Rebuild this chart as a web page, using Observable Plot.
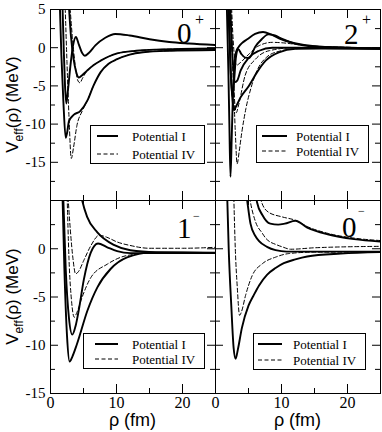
<!DOCTYPE html>
<html><head><meta charset="utf-8">
<script src="https://cdn.jsdelivr.net/npm/d3@7"></script>
<script src="https://cdn.jsdelivr.net/npm/@observablehq/plot@0.6"></script>
<style>
body{margin:0;background:#fff}
#chart{position:relative;width:382px;height:432px;overflow:hidden;background:#fff}
#chart svg{position:absolute;left:0;top:0}
</style></head><body><div id="chart"></div>
<script>
// ---------- data: rho (fm), V_eff (MeV) ----------
// 0+ panel
const zp_I_a = [[1.8,6],[2.0,0],[2.2,-5],[2.4,-7.3],[2.65,-5.5],[3.0,-2.5],[3.4,0.2],[3.85,1.4],[4.3,0.4],[4.8,-0.7],[5.2,-1.05],[5.8,-0.7],[6.8,0.3],[8.3,1.3],[9.8,1.8],[12,1.6],[15,1.1],[18,0.75],[21,0.55],[25,0.35]];
const zp_I_b = [[1.4,6],[1.65,-1],[1.95,-7],[2.3,-11.8],[2.5,-11.2],[2.8,-9.6],[3.5,-8.8],[4.5,-8.3],[5.6,-6.9],[6.5,-5],[7.6,-3.2],[8.8,-2.1],[10.1,-1.5],[12,-0.9],[14,-0.6],[18,-0.4],[25,-0.3]];
const zp_I_c = [[2.75,6],[3.1,1.5],[3.5,-1.5],[3.9,-3.2],[4.3,-3.9],[4.8,-3.6],[5.55,-3.0],[6.5,-2.3],[7.6,-1.7],[10.1,-0.75],[13,-0.4],[16,-0.25],[25,-0.1]];
const zp_IV_a = [[2.2,6],[2.5,-2],[2.8,-9],[3.15,-14.5],[3.5,-13],[4.0,-10.2],[4.8,-8.3],[5.6,-6.9],[6.5,-5],[7.6,-3.2],[8.8,-2.1],[10.1,-1.5],[12,-0.9],[14,-0.6],[18,-0.4],[25,-0.3]];
const zp_IV_b = [[2.9,6],[3.3,1.5],[3.7,-2],[4.1,-4.2],[4.45,-4.6],[4.85,-4.0],[5.55,-3.0],[6.5,-2.3],[7.6,-1.7],[10.1,-0.75],[13,-0.4],[16,-0.25],[25,-0.1]];
// 2+ panel
const tp_I_a = [[1.7,6],[1.95,-3],[2.1,-10],[2.27,-16.9],[2.45,-12],[2.65,-6],[2.9,-2],[3.1,-0.6],[3.5,0.1],[4.0,0.6],[4.8,1.1],[6.0,1.8],[7.2,2.05],[8.5,1.7],[10,1.1],[12,0.6],[15,0.2],[20,0],[25,-0.1]];
const tp_I_b = [[1.9,6],[2.3,-3],[2.6,-7],[2.8,-8.2],[3.05,-7.8],[3.8,-6.5],[5.05,-5.0],[6.3,-3.2],[7.6,-1.7],[9.6,-0.6],[12.1,-0.15],[16,-0.1],[25,-0.15]];
const tp_I_c = [[2.0,6],[2.3,-3],[2.6,-6.5],[2.85,-4],[3.1,-1.2],[3.45,-0.2],[3.9,-0.8],[4.5,-1.3],[5.1,-1.35],[6.0,0.1],[7.0,1.1],[8.0,1.75],[9,1.6],[10.1,1.15],[12.1,0.5],[15,0.15],[20,0],[25,-0.1]];
const tp_I_d = [[2.2,6],[2.6,-1.5],[3.0,-4.5],[3.3,-4.3],[3.8,-3.0],[5.05,-1.3],[6.6,-0.4],[8.6,0.0],[12,0],[25,-0.1]];
const tp_IV_a = [[2.3,6],[2.7,-4],[3.0,-11],[3.28,-15.2],[3.6,-13.5],[4.0,-11],[4.6,-8],[5.4,-5.2],[6.4,-2.8],[7.8,-1.2],[9.7,-0.45],[12,-0.15],[16,0],[25,-0.1]];
const tp_IV_b = [[2.2,6],[2.6,-2],[2.9,-7],[3.15,-8.5],[3.5,-7.5],[4.5,-3.6],[6.06,-1.5],[8.1,-0.4],[12,0],[25,-0.1]];
const tp_IV_c = [[2.4,6],[2.8,-0.5],[3.2,-2.3],[3.7,-2.0],[5.05,-0.85],[6.56,0.25],[8.6,0.7],[10,0.65],[12.1,0.45],[15,0.2],[20,0.05],[25,0]];
// 1- panel
const om_I_a = [[1.8,6],[2.1,-2],[2.5,-9],[2.9,-11.7],[3.3,-11.2],[4.0,-9.9],[5.6,-6.4],[7.1,-4.0],[9.1,-2.1],[11.6,-0.9],[15.2,-0.4],[20,-0.4],[25,-0.45]];
const om_I_b = [[1.9,6],[2.3,-2],[2.8,-7.2],[3.3,-8.9],[3.8,-8],[4.3,-6.3],[5.05,-3.2],[6.1,-0.4],[7.2,0.55],[8.6,0.15],[10.1,-0.25],[12.1,-0.45],[16,-0.45],[25,-0.45]];
const om_I_c = [[4.5,6],[4.8,5],[5.55,3.3],[7.1,1.7],[9.6,0.4],[12.1,-0.15],[16,-0.35],[25,-0.4]];
const om_IV_a = [[2.5,6],[2.8,-1],[3.2,-5.5],[3.6,-7.1],[4.0,-6.6],[4.8,-5.0],[6.1,-3.0],[8.6,-1.6],[11.6,-0.7],[16,-0.4],[25,-0.4]];
const om_IV_b = [[2.6,6],[3.0,2],[3.4,-1],[3.8,-2.6],[4.2,-2.4],[5.05,-1.2],[6.1,0.3],[7.4,1.4],[8.5,1.2],[10.1,0.7],[12,0.35],[15,0.05],[20,0.05],[25,0.15]];
// 0- panel
const zm_I_a = [[1.75,6],[2.0,0],[2.4,-6],[2.75,-10.3],[3.05,-11.4],[3.4,-10.4],[4.0,-8.2],[5.0,-5.9],[5.8,-4.8],[6.6,-3.8],[7.8,-2.7],[9.1,-2.0],[10.35,-1.5],[12.1,-1.1],[13.9,-0.8],[19,-0.5],[25,-0.35]];
const zm_I_b = [[4.6,6],[4.8,5],[5.3,2.6],[6.06,1.3],[6.6,0.8],[7.8,0.2],[9.1,-0.15],[10.8,-0.3],[14,-0.3],[25,-0.3]];
const zm_I_c = [[6.0,6],[6.3,4.8],[7.1,3.5],[8.3,2.6],[9.5,2.5],[10.5,2.6],[12.1,2.9],[13.9,2.2],[17,1.5],[21,1.0],[25,0.75]];
const zm_IV_a = [[2.75,6],[3.0,0],[3.3,-4],[3.65,-6.9],[3.95,-6.5],[4.55,-4.85],[5.55,-2.8],[7.1,-1.55],[9.1,-0.87],[11.1,-0.5],[15,-0.35],[25,-0.35]];
const zm_IV_b = [[5.0,6],[5.3,4.8],[6.06,2.8],[7.1,1.6],[7.6,1.1],[9.3,0.4],[10.1,0.2],[11.4,-0.05],[15,0.1],[25,0.25]];
const zm_IV_c = [[6.6,6],[7.0,4.8],[8.0,3.8],[10.1,3.3],[12.1,2.95],[13.9,2.3],[17,1.6],[21,1.1],[25,0.85]];

// ---------- ticks & labels ----------
const xDomain = [0, 25];
const yDomainTop = [-20, 5];
const yDomainBottom = [-15, 5];
const xTicksMajor = [0, 10, 20];
const xTicksMinor = [5, 15];
const yTicksMajorTop = [5, 0, -5, -10, -15, -20];
const yTicksMinorTop = [2.5, -2.5, -7.5, -12.5, -17.5];
const yTicksMajorBottom = [5, 0, -5, -10, -15];
const yTicksMinorBottom = [2.5, -2.5, -7.5, -12.5];
const yTickLabelsTop = [5, 0, -5, -10, -15];
const yTickLabelsBottom = [0, -5, -10, -15];
const xTickLabels = [0, 10, 20];
const legendLabels = ["Potential I", "Potential IV"];
const yTitle = ["V", "eff", "(\u03c1) (MeV)"];
const xTitle = "\u03c1 (fm)";

// ---------- layout ----------
const W = 382, H = 432;
const panels = [
  {state: ["0", "+"], x0: 50, x1: 215, y0: 9, y1: 200, yDomain: yDomainTop, yMaj: yTicksMajorTop, yMin: yTicksMinorTop,
   yLab: yTickLabelsTop, xLab: null, solid: [zp_I_a, zp_I_b, zp_I_c], dashed: [zp_IV_a, zp_IV_b],
   legend: {x: 90, y: 125, w: 114, h: 38, lx: 97, lw: 21, tx: 132, dy: 18},
   lab: {x: 177, y: 43, sx: 195, sy: 25, ss: 16}},
  {state: ["2", "+"], x0: 215, x1: 380, y0: 9, y1: 200, yDomain: yDomainTop, yMaj: yTicksMajorTop, yMin: yTicksMinorTop,
   yLab: null, xLab: null, solid: [tp_I_a, tp_I_b, tp_I_c, tp_I_d], dashed: [tp_IV_a, tp_IV_b, tp_IV_c],
   legend: {x: 256, y: 125, w: 112, h: 37, lx: 262, lw: 25, tx: 296, dy: 15},
   lab: {x: 344, y: 44, sx: 362, sy: 25, ss: 16}},
  {state: ["1", "\u2212"], x0: 50, x1: 215, y0: 200, y1: 393, yDomain: yDomainBottom, yMaj: yTicksMajorBottom, yMin: yTicksMinorBottom,
   yLab: yTickLabelsBottom, xLab: xTickLabels, solid: [om_I_a, om_I_b, om_I_c], dashed: [om_IV_a, om_IV_b],
   legend: {x: 83, y: 333, w: 121, h: 35, lx: 95, lw: 23, tx: 132, dy: 15},
   lab: {x: 177, y: 238, sx: 193, sy: 220, ss: 12}},
  {state: ["0", "\u2212"], x0: 215, x1: 380, y0: 200, y1: 393, yDomain: yDomainBottom, yMaj: yTicksMajorBottom, yMin: yTicksMinorBottom,
   yLab: null, xLab: xTickLabels, solid: [zm_I_a, zm_I_b, zm_I_c], dashed: [zm_IV_a, zm_IV_b, zm_IV_c],
   legend: {x: 253, y: 333, w: 112, h: 36, lx: 258, lw: 24, tx: 293, dy: 16},
   lab: {x: 342, y: 237, sx: 358, sy: 215, ss: 12}}
];

const toRows = (list) => list.flatMap((s, i) => s.map(([r, v]) => ({r, v, id: i})));
const chart = document.getElementById("chart");
const SERIF = "Liberation Serif";
const SANS = "Liberation Sans";

for (const p of panels) {
  const pw = p.x1 - p.x0, ph = p.y1 - p.y0;
  const marks = [
    Plot.line(toRows(p.dashed), {x: "r", y: "v", z: "id", curve: "monotone-x", stroke: "black", strokeWidth: 1, strokeDasharray: "4,2.5", clip: true}),
    Plot.line(toRows(p.solid), {x: "r", y: "v", z: "id", curve: "monotone-x", stroke: "black", strokeWidth: 1.9, clip: true}),
    Plot.frame({stroke: "black", strokeWidth: 1}),
    Plot.tickY(p.yMaj, {y: d => d, insetRight: pw - 8, stroke: "black"}),
    Plot.tickY(p.yMaj, {y: d => d, insetLeft: pw - 8, stroke: "black"}),
    Plot.tickY(p.yMin, {y: d => d, insetRight: pw - 5, stroke: "black"}),
    Plot.tickY(p.yMin, {y: d => d, insetLeft: pw - 5, stroke: "black"}),
    Plot.tickX(xTicksMajor, {x: d => d, insetTop: ph - 9, stroke: "black"}),
    Plot.tickX(xTicksMajor, {x: d => d, insetBottom: ph - 9, stroke: "black"}),
    Plot.tickX(xTicksMinor, {x: d => d, insetTop: ph - 5, stroke: "black"}),
    Plot.tickX(xTicksMinor, {x: d => d, insetBottom: ph - 5, stroke: "black"})
  ];
  if (p.yLab) marks.push(Plot.axisY(p.yLab, {anchor: "left", tickSize: 0, tickPadding: 5, tickFormat: d => String(d), fontSize: 15, fontFamily: SERIF, label: null}));
  if (p.xLab) marks.push(Plot.axisX(p.xLab, {anchor: "bottom", tickSize: 0, tickPadding: 3, tickFormat: d => String(d), fontSize: 16, fontFamily: SERIF, label: null}));
  const svg = Plot.plot({
    width: W, height: H,
    marginLeft: p.x0, marginRight: W - p.x1, marginTop: p.y0, marginBottom: H - p.y1,
    x: {domain: xDomain, axis: null},
    y: {domain: p.yDomain, axis: null},
    style: {background: "transparent", fontFamily: SERIF, color: "black", overflow: "visible"},
    marks
  });
  const s = d3.select(svg);
  s.selectAll("text").attr("font-family", SERIF).style("font-family", SERIF);
  // legend
  const L = p.legend;
  const g = s.append("g").attr("text-anchor", "start");
  g.append("rect").attr("x", L.x + 0.5).attr("y", L.y + 0.5).attr("width", L.w).attr("height", L.h)
    .attr("fill", "white").attr("stroke", "black").attr("stroke-width", 1);
  legendLabels.forEach((lab, i) => {
    const yy = L.y + 11 + i * L.dy;
    g.append("line").attr("x1", L.lx).attr("x2", L.lx + L.lw).attr("y1", yy).attr("y2", yy)
      .attr("stroke", "black").attr("stroke-width", i === 0 ? 2 : 1).attr("stroke-dasharray", i === 0 ? null : "4,2.5");
    g.append("text").attr("x", L.tx).attr("y", yy).attr("dy", "0.35em").attr("text-anchor", "start")
      .style("font-family", SERIF).attr("font-size", 13).attr("fill", "black").text(lab);
  });
  // state label
  s.append("text").attr("x", p.lab.x).attr("y", p.lab.y).attr("text-anchor", "start").style("font-family", SERIF)
    .attr("font-size", 29).attr("fill", "black").text(p.state[0]);
  s.append("text").attr("x", p.lab.sx).attr("y", p.lab.sy).attr("text-anchor", "start").style("font-family", SERIF)
    .attr("font-size", p.lab.ss).attr("fill", "black").text(p.state[1]);
  // axis titles
  if (p.yLab) {
    const cy = (p.y0 + p.y1) / 2;
    const t = s.append("text").attr("transform", `translate(18,${cy}) rotate(-90)`).attr("text-anchor", "middle")
      .style("font-family", SANS).attr("font-size", 17).attr("fill", "black");
    t.append("tspan").text(yTitle[0]);
    t.append("tspan").attr("dy", 5).attr("font-size", 12).text(yTitle[1]);
    t.append("tspan").attr("dy", -5).text(yTitle[2]);
  }
  if (p.xLab) {
    s.append("text").attr("x", (p.x0 + p.x1) / 2).attr("y", 426).attr("text-anchor", "middle")
      .style("font-family", SANS).attr("font-size", 18).attr("fill", "black").text(xTitle);
  }
  chart.appendChild(svg);
}
</script></body></html>
